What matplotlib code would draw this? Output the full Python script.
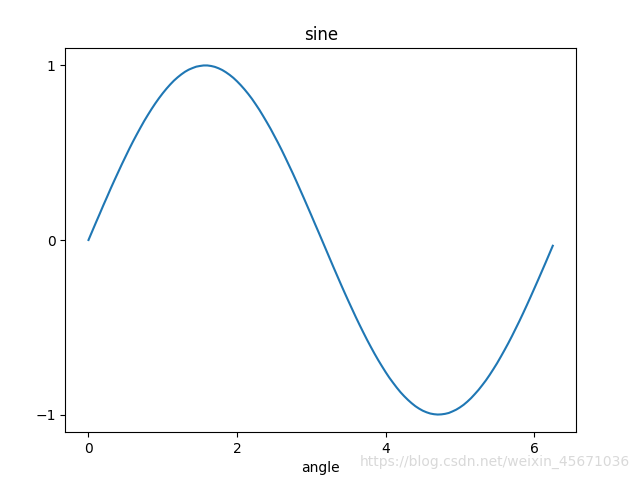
import matplotlib
matplotlib.use("Agg")
import matplotlib.pyplot as plt

# angle values (step 0.05, 0 .. 6.25)
angle = [0.00, 0.05, 0.10, 0.15, 0.20, 0.25, 0.30, 0.35, 0.40, 0.45,
         0.50, 0.55, 0.60, 0.65, 0.70, 0.75, 0.80, 0.85, 0.90, 0.95,
         1.00, 1.05, 1.10, 1.15, 1.20, 1.25, 1.30, 1.35, 1.40, 1.45,
         1.50, 1.55, 1.60, 1.65, 1.70, 1.75, 1.80, 1.85, 1.90, 1.95,
         2.00, 2.05, 2.10, 2.15, 2.20, 2.25, 2.30, 2.35, 2.40, 2.45,
         2.50, 2.55, 2.60, 2.65, 2.70, 2.75, 2.80, 2.85, 2.90, 2.95,
         3.00, 3.05, 3.10, 3.15, 3.20, 3.25, 3.30, 3.35, 3.40, 3.45,
         3.50, 3.55, 3.60, 3.65, 3.70, 3.75, 3.80, 3.85, 3.90, 3.95,
         4.00, 4.05, 4.10, 4.15, 4.20, 4.25, 4.30, 4.35, 4.40, 4.45,
         4.50, 4.55, 4.60, 4.65, 4.70, 4.75, 4.80, 4.85, 4.90, 4.95,
         5.00, 5.05, 5.10, 5.15, 5.20, 5.25, 5.30, 5.35, 5.40, 5.45,
         5.50, 5.55, 5.60, 5.65, 5.70, 5.75, 5.80, 5.85, 5.90, 5.95,
         6.00, 6.05, 6.10, 6.15, 6.20, 6.25]
sine = [0.000, 0.050, 0.100, 0.149, 0.199, 0.247, 0.296, 0.343, 0.389, 0.435,
        0.479, 0.523, 0.565, 0.605, 0.644, 0.682, 0.717, 0.751, 0.783, 0.813,
        0.841, 0.867, 0.891, 0.913, 0.932, 0.949, 0.964, 0.976, 0.985, 0.993,
        0.997, 1.000, 1.000, 0.997, 0.992, 0.984, 0.974, 0.961, 0.946, 0.929,
        0.909, 0.887, 0.863, 0.837, 0.809, 0.778, 0.746, 0.711, 0.675, 0.638,
        0.598, 0.558, 0.516, 0.472, 0.427, 0.382, 0.335, 0.287, 0.239, 0.190,
        0.141, 0.091, 0.042, -0.008, -0.058, -0.108, -0.158, -0.207, -0.256, -0.304,
        -0.351, -0.397, -0.443, -0.487, -0.530, -0.572, -0.612, -0.651, -0.688, -0.723,
        -0.757, -0.789, -0.818, -0.846, -0.872, -0.895, -0.916, -0.935, -0.952, -0.966,
        -0.978, -0.987, -0.994, -0.998, -1.000, -0.999, -0.996, -0.991, -0.982, -0.972,
        -0.959, -0.944, -0.926, -0.906, -0.883, -0.859, -0.832, -0.804, -0.773, -0.740,
        -0.706, -0.669, -0.631, -0.592, -0.551, -0.508, -0.465, -0.420, -0.374, -0.327,
        -0.279, -0.231, -0.182, -0.133, -0.083, -0.033]
xticks = [0, 2, 4, 6]
yticks = [-1, 0, 1]

fig, ax = plt.subplots(figsize=(6.4, 4.8), dpi=100)
fig.subplots_adjust(left=0.102, right=0.9, top=0.9, bottom=0.1)
ax.plot(angle, sine)
ax.set_xticks(xticks)
ax.set_yticks(yticks)
ax.set_xlabel('angle')
ax.set_title('sine')
# watermark
fig.text(0.985, 0.037, 'https://blog.csdn.net/weixin_45671036', ha='right', va='center',
         color='#d9d9d9', fontsize=10)
fig.savefig('out.png')
